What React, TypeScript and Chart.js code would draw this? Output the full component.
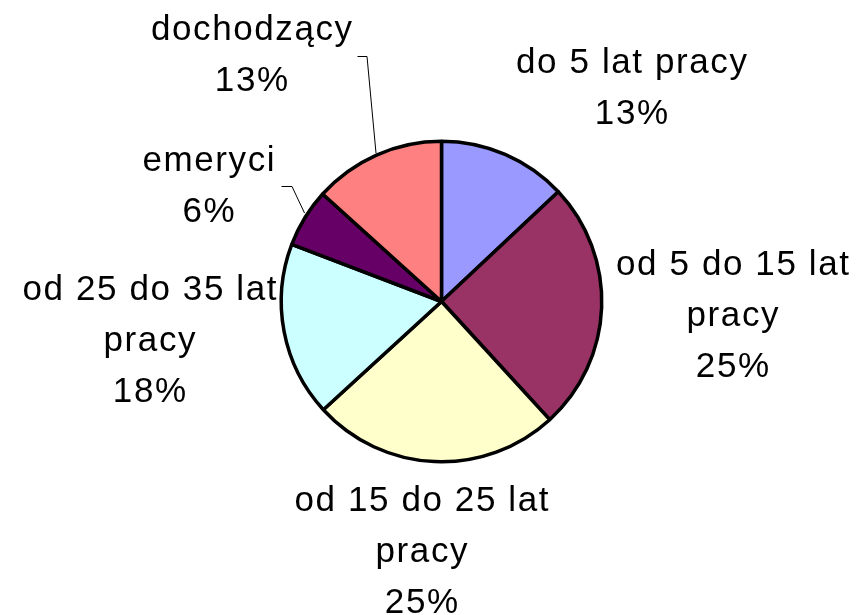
import React, { useEffect, useRef } from "react";
import { Chart, registerables } from "chart.js";

Chart.register(...registerables);

const categories = [
  "do 5 lat pracy",
  "od 5 do 15 lat pracy",
  "od 15 do 25 lat pracy",
  "od 25 do 35 lat pracy",
  "emeryci",
  "dochodzący",
];
const shares = [13.0, 25.2, 25.0, 17.6, 5.9, 13.3];
const percentLabels = ["13%", "25%", "25%", "18%", "6%", "13%"];
const labelWraps = [
  ["do 5 lat pracy"],
  ["od 5 do 15 lat", "pracy"],
  ["od 15 do 25 lat", "pracy"],
  ["od 25 do 35 lat", "pracy"],
  ["emeryci"],
  ["dochodzący"],
];
const sliceColors = ["#9999FF", "#993366", "#FFFFCC", "#CCFFFF", "#660066", "#FF8080"];

// label anchor (center x, first baseline y) relative to pie center
const labelOffsets: [number, number][] = [
  [190, -229],
  [291, -27],
  [-20, 209],
  [-292, -2],
  [-233, -131],
  [-190, -262],
];
// leader lines relative to pie center (only for some labels)
const leaders: ([number, number][] | null)[] = [
  null,
  null,
  null,
  null,
  [[-160, -115], [-149.5, -115], [-137, -88.5]],
  [[-84, -245], [-74.5, -245], [-65.5, -148.5]],
];

const labelPlugin = {
  id: "pieLabels",
  afterDraw(chart: any) {
    const ctx = chart.ctx;
    const meta = chart.getDatasetMeta(0);
    const arc = meta.data[0];
    const cx = arc.x;
    const cy = arc.y;
    ctx.save();
    ctx.strokeStyle = "#000";
    ctx.lineWidth = 1;
    leaders.forEach((pts) => {
      if (!pts) return;
      ctx.beginPath();
      pts.forEach((p, i) => {
        if (i === 0) ctx.moveTo(cx + p[0], cy + p[1]);
        else ctx.lineTo(cx + p[0], cy + p[1]);
      });
      ctx.stroke();
    });
    ctx.fillStyle = "#000";
    ctx.font = "35px 'Liberation Sans', Arial, sans-serif";
    ctx.textAlign = "center";
    ctx.textBaseline = "alphabetic";
    const hasLS = "letterSpacing" in ctx;
    if (hasLS) (ctx as any).letterSpacing = "1.6px";
    const lineH = 51;
    categories.forEach((_, i) => {
      const lines = [...labelWraps[i], percentLabels[i]];
      const [ox, oy] = labelOffsets[i];
      lines.forEach((t, j) => {
        ctx.save();
        ctx.translate(cx + ox + (hasLS ? 0.8 : 0), cy + oy + j * lineH);
        if (!hasLS) ctx.scale(1.08, 1);
        ctx.fillText(t, 0, 0);
        ctx.restore();
      });
    });
    ctx.restore();
  },
};

export default function App() {
  const ref = useRef<HTMLCanvasElement>(null);
  useEffect(() => {
    if (!ref.current) return;
    const chart = new Chart(ref.current, {
      type: "pie",
      data: {
        labels: categories,
        datasets: [
          {
            data: shares,
            backgroundColor: sliceColors,
            borderColor: "#000",
            borderWidth: 3.5,
          },
        ],
      },
      options: {
        animation: false,
        responsive: false,
        layout: { padding: { left: 279.5, right: 260.5, top: 139.5, bottom: 151.5 } },
        plugins: {
          legend: { display: false },
          tooltip: { enabled: false },
        },
      },
      plugins: [labelPlugin],
    });
    return () => chart.destroy();
  }, []);
  return (
    <div style={{ position: "fixed", left: 0, top: 0, width: 864, height: 615, background: "#fff" }}>
      <canvas ref={ref} width={864} height={615} style={{ width: 864, height: 615 }} />
    </div>
  );
}
